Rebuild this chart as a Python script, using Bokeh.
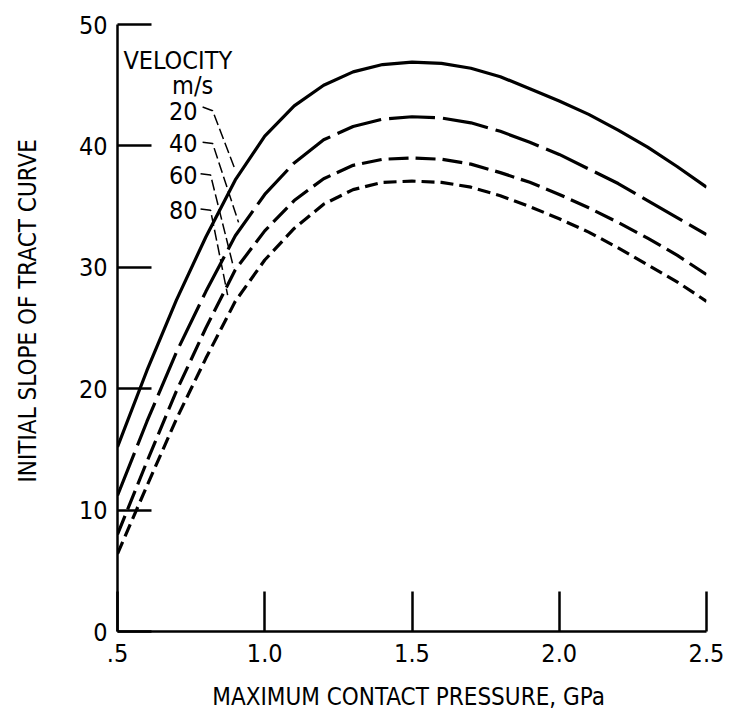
from bokeh.plotting import figure
from bokeh.models import FixedTicker
from bokeh.core.properties import value
from bokeh.embed import file_html
from bokeh.resources import INLINE

# Data
pressure = [0.5, 0.6, 0.7, 0.8, 0.9, 1.0, 1.1, 1.2, 1.3, 1.4, 1.5,
            1.6, 1.7, 1.8, 1.9, 2.0, 2.1, 2.2, 2.3, 2.4, 2.5]
slope_20 = [15.2, 21.5, 27.3, 32.5, 37.2, 40.8, 43.3, 45.0, 46.1, 46.7, 46.9,
            46.8, 46.4, 45.7, 44.7, 43.7, 42.6, 41.3, 39.9, 38.3, 36.6]
slope_40 = [11.2, 17.3, 23.0, 28.0, 32.6, 36.0, 38.6, 40.5, 41.6, 42.2, 42.4,
            42.3, 41.9, 41.2, 40.3, 39.3, 38.1, 36.9, 35.5, 34.1, 32.7]
slope_60 = [8.0, 14.0, 19.8, 25.0, 29.8, 33.0, 35.5, 37.3, 38.4, 38.9, 39.0,
            38.9, 38.5, 37.8, 37.0, 36.0, 34.9, 33.7, 32.4, 31.0, 29.4]
slope_80 = [6.4, 12.0, 17.5, 22.5, 27.2, 30.6, 33.2, 35.2, 36.4, 37.0, 37.1,
            37.0, 36.6, 35.9, 35.0, 34.0, 32.9, 31.6, 30.2, 28.8, 27.2]

x_ticks = [0.5, 1.0, 1.5, 2.0, 2.5]
x_tick_labels = [".5", "1.0", "1.5", "2.0", "2.5"]
y_ticks = [0, 10, 20, 30, 40, 50]

velocity_labels = ["20", "40", "60", "80"]
label_x = [0.772, 0.772, 0.772, 0.772]
label_y = [42.9, 40.2, 37.6, 34.7]
leader_xs = [[0.789, 0.823, 0.900], [0.789, 0.823, 0.911],
             [0.782, 0.816, 0.894], [0.782, 0.816, 0.874]]
leader_ys = [[43.2, 42.9, 38.0], [40.3, 40.2, 33.7],
             [37.7, 37.6, 30.0], [34.8, 34.7, 27.7]]

FONT = "DejaVu Sans Condensed"
NBSP = "\u00a0"

p = figure(width=729, height=719, x_range=(0.5, 2.5), y_range=(0, 50),
           output_backend="svg", toolbar_location=None,
           min_border_left=117, min_border_right=23,
           min_border_top=24, min_border_bottom=88)
p.outline_line_color = None
p.grid.visible = False
p.background_fill_color = "white"

lw = 3.2
p.line(pressure, slope_20, line_color="black", line_width=lw)
p.line(pressure, slope_40, line_color="black", line_width=lw, line_dash="46 8")
p.line(pressure, slope_60, line_color="black", line_width=lw, line_dash="20 7")
p.line(pressure, slope_80, line_color="black", line_width=lw, line_dash="13 6")

p.multi_line(leader_xs, leader_ys, line_color="black", line_width=1.5,
             line_dash="11 4")

p.text(x=label_x, y=label_y, text=velocity_labels, text_align="right",
       text_baseline="middle", text_font=value(FONT), text_font_size="25px",
       text_color="black")
p.text(x=[0.52], y=[47.0], text=["VELOCITY"], text_align="left",
       text_baseline="middle", text_font=value(FONT), text_font_size="25px",
       text_color="black")
p.text(x=[0.755], y=[45.0], text=["m/s"], text_align="center",
       text_baseline="middle", text_font=value(FONT), text_font_size="25px",
       text_color="black")

xa = p.xaxis[0]
xa.ticker = FixedTicker(ticks=x_ticks)
xa.major_label_overrides = {t: l for t, l in zip(x_ticks, x_tick_labels)}
xa.major_tick_in = 40
xa.major_tick_out = 0
xa.minor_tick_line_color = None
xa.axis_line_width = 2.5
xa.major_tick_line_width = 2.5
xa.major_label_text_font = FONT
xa.major_label_text_font_size = "25px"
xa.major_label_text_color = "black"
xa.major_label_standoff = 12
xa.axis_label = "MAXIMUM CONTACT PRESSURE,  GPa"
xa.axis_label_text_font = FONT
xa.axis_label_text_font_size = "24px"
xa.axis_label_text_font_style = "normal"
xa.axis_label_text_color = "black"
xa.axis_label_standoff = 18

ya = p.yaxis[0]
ya.ticker = FixedTicker(ticks=y_ticks)
ya.major_tick_in = 34
ya.major_tick_out = 0
ya.minor_tick_line_color = None
ya.axis_line_width = 2.5
ya.major_tick_line_width = 2.5
ya.major_label_text_font = FONT
ya.major_label_text_font_size = "25px"
ya.major_label_text_color = "black"
ya.major_label_standoff = 10
ya.axis_label = NBSP * 5 + "INITIAL SLOPE OF TRACT CURVE"
ya.axis_label_text_font = FONT
ya.axis_label_text_font_size = "24px"
ya.axis_label_text_font_style = "normal"
ya.axis_label_text_color = "black"
ya.axis_label_standoff = 34

open("out.html", "w").write(file_html(p, INLINE))
